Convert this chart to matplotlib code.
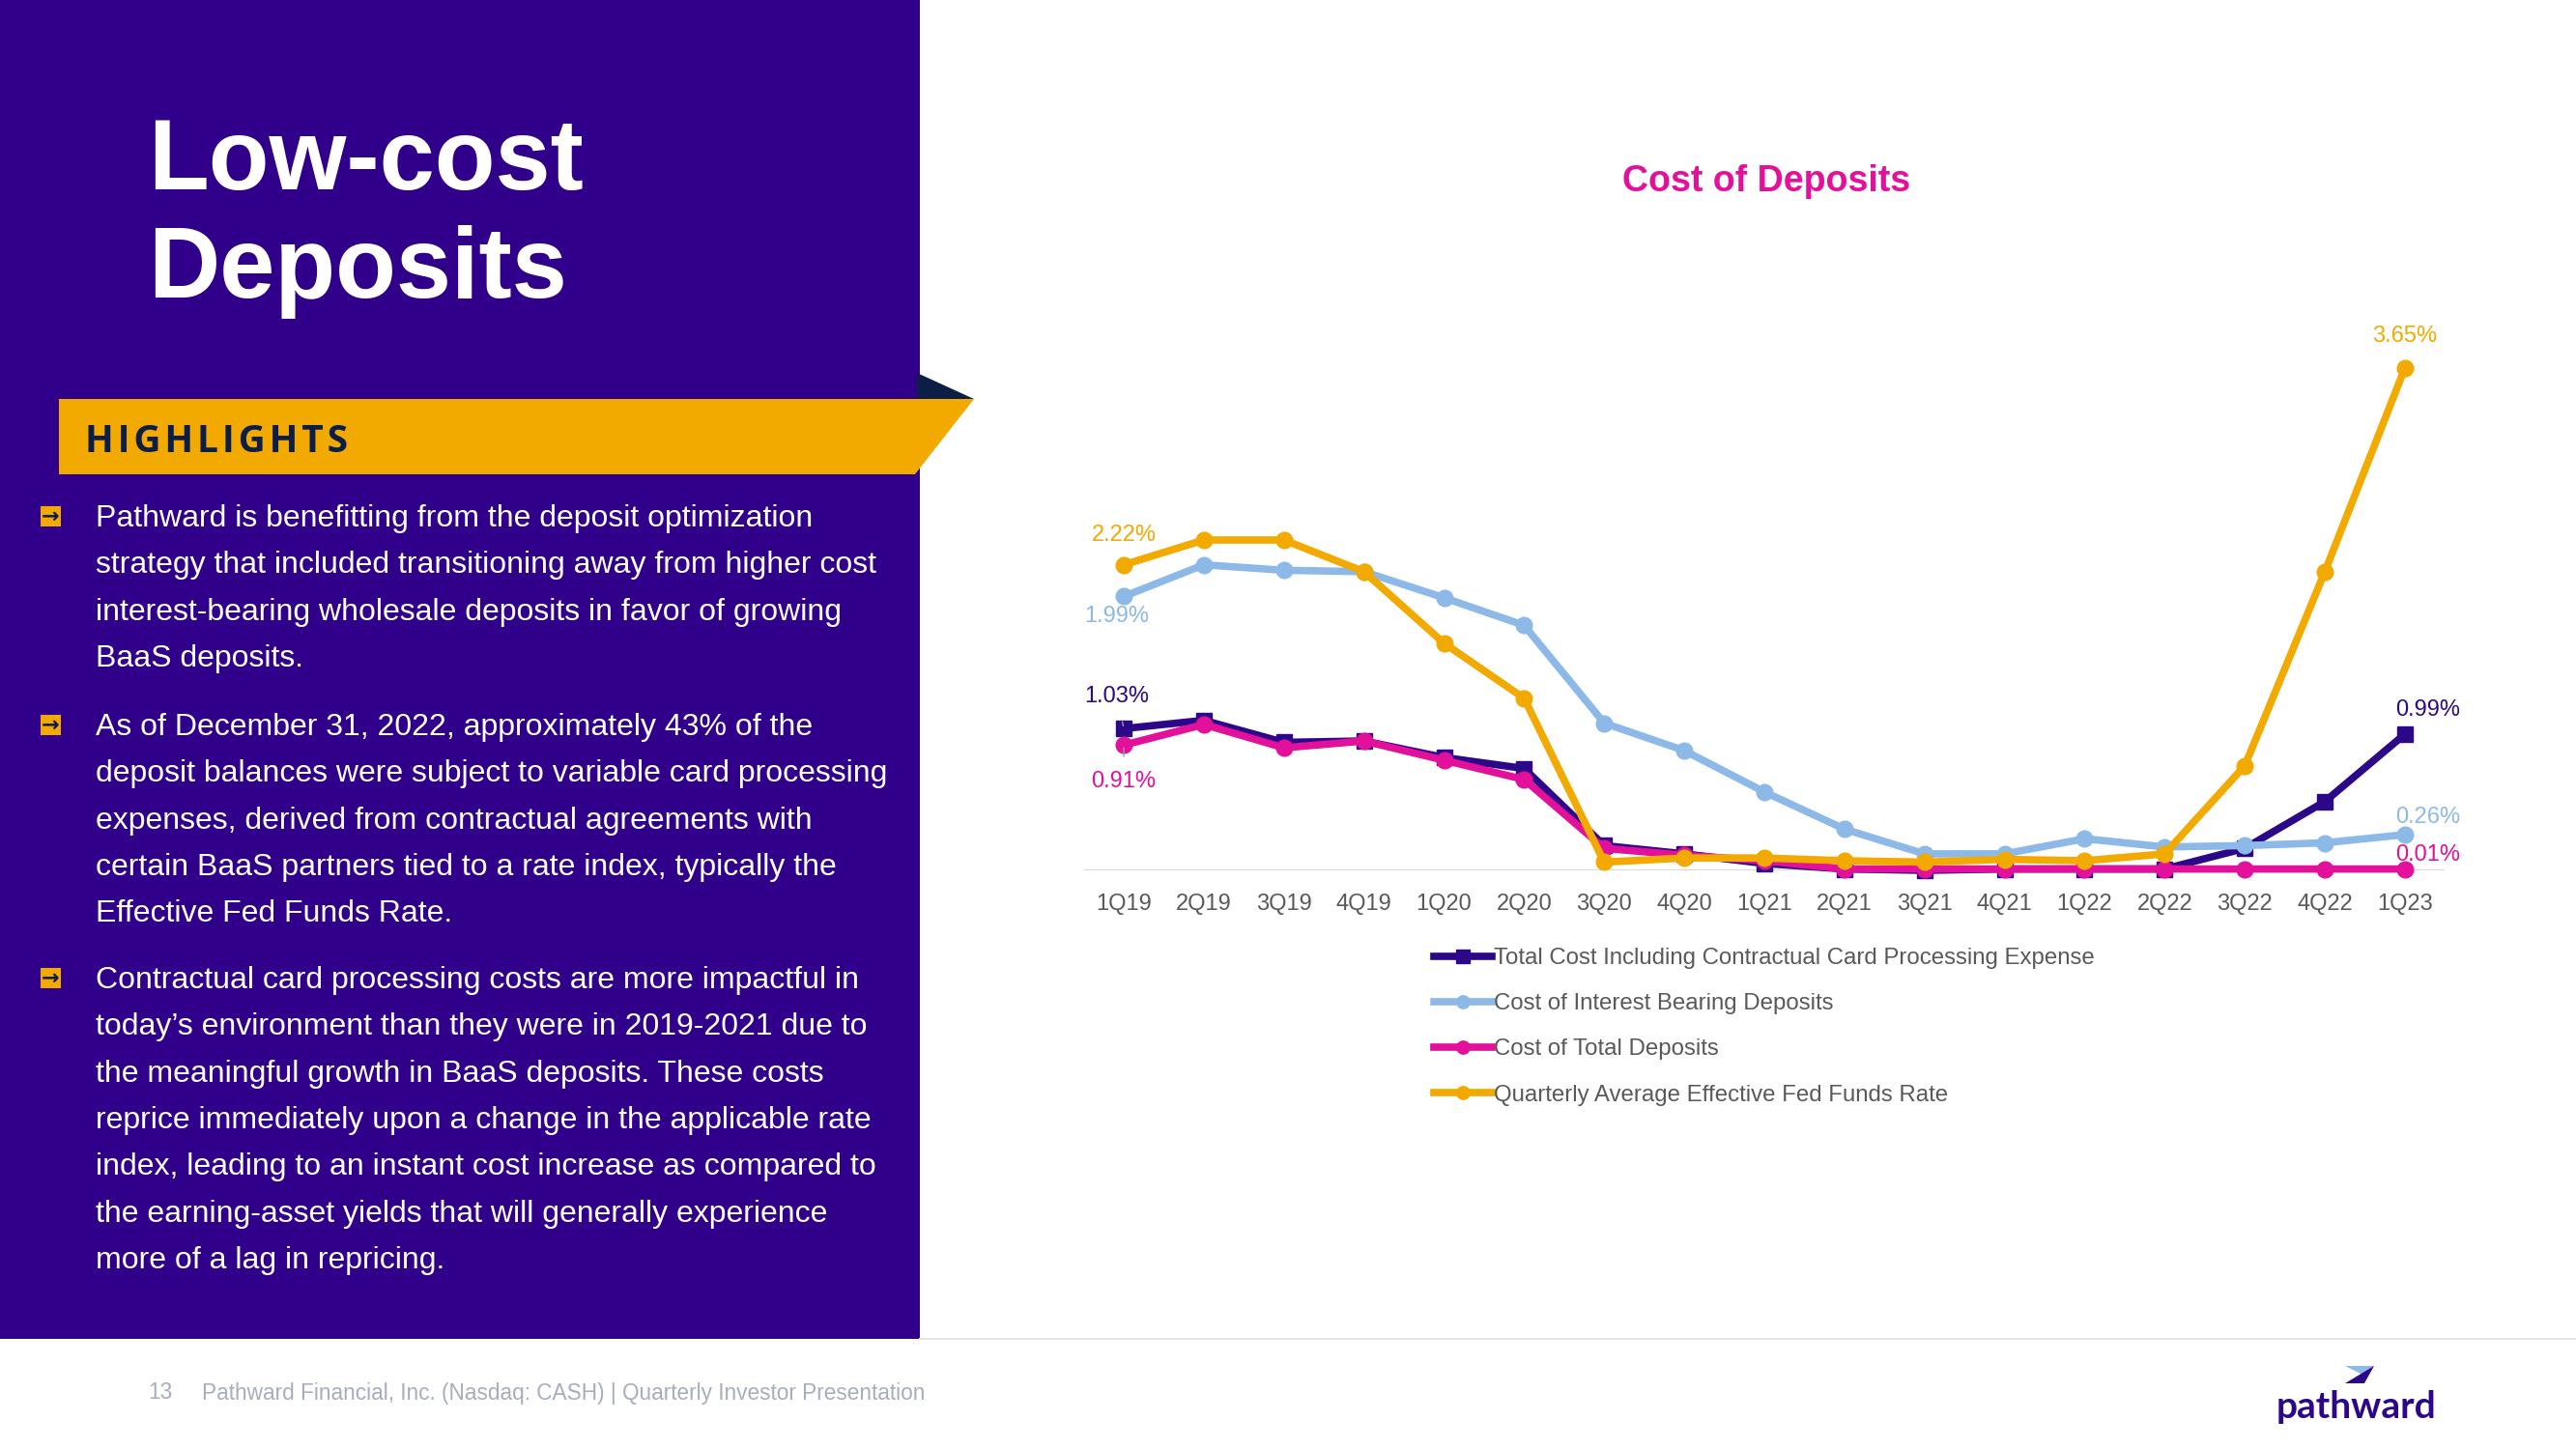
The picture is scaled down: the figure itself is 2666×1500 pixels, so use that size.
import matplotlib
matplotlib.use("Agg")
import matplotlib.pyplot as plt
from matplotlib.patches import Rectangle, Polygon

# Data
quarters = ["1Q19", "2Q19", "3Q19", "4Q19", "1Q20", "2Q20", "3Q20", "4Q20", "1Q21",
            "2Q21", "3Q21", "4Q21", "1Q22", "2Q22", "3Q22", "4Q22", "1Q23"]
total_cost = [1.03, 1.09, 0.93, 0.94, 0.82, 0.74, 0.18, 0.12, 0.05,
              0.01, 0.00, 0.01, 0.01, 0.01, 0.16, 0.50, 0.99]
interest_bearing = [1.99, 2.22, 2.18, 2.17, 1.98, 1.78, 1.07, 0.87, 0.57,
                    0.30, 0.12, 0.12, 0.23, 0.17, 0.18, 0.20, 0.26]
total_deposits = [0.91, 1.06, 0.89, 0.94, 0.80, 0.66, 0.16, 0.11, 0.07,
                  0.01, 0.01, 0.01, 0.01, 0.01, 0.01, 0.01, 0.01]
fed_funds = [2.22, 2.40, 2.40, 2.17, 1.65, 1.25, 0.06, 0.09, 0.09,
             0.07, 0.06, 0.08, 0.07, 0.12, 0.76, 2.17, 3.65]
series_names = ["Total Cost Including Contractual Card Processing Expense",
                "Cost of Interest Bearing Deposits",
                "Cost of Total Deposits",
                "Quarterly Average Effective Fed Funds Rate"]

bullets = [
    ["Pathward is benefitting from the deposit optimization",
     "strategy that included transitioning away from higher cost",
     "interest-bearing wholesale deposits in favor of growing",
     "BaaS deposits."],
    ["As of December 31, 2022, approximately 43% of the",
     "deposit balances were subject to variable card processing",
     "expenses, derived from contractual agreements with",
     "certain BaaS partners tied to a rate index, typically the",
     "Effective Fed Funds Rate."],
    ["Contractual card processing costs are more impactful in",
     "today\u2019s environment than they were in 2019-2021 due to",
     "the meaningful growth in BaaS deposits. These costs",
     "reprice immediately upon a change in the applicable rate",
     "index, leading to an instant cost increase as compared to",
     "the earning-asset yields that will generally experience",
     "more of a lag in repricing."],
]

# Colours
PURPLE = "#30008A"
DARK = "#2C0889"
LIGHT_BLUE = "#8DB9E8"
PINK = "#E2109A"
GOLD = "#F2A900"
NAVY = "#0D1E44"
GRAY = "#595959"

W, H = 2666, 1500
plt.rcParams["font.family"] = ["Liberation Sans", "DejaVu Sans"]
fig = plt.figure(figsize=(W / 100, H / 100), dpi=100)

# Background layer in pixel coordinates
bg = fig.add_axes([0, 0, 1, 1])
bg.set_xlim(0, W)
bg.set_ylim(H, 0)
bg.axis("off")

bg.add_patch(Rectangle((0, 0), 952, 1386, color=PURPLE, lw=0))
bg.plot([952, W], [1386, 1386], color="#E4E4E4", lw=1.5)
bg.add_patch(Polygon([(949, 386), (949, 413), (1008, 413)], color=NAVY, lw=0))
bg.add_patch(Polygon([(61, 413), (1008, 413), (947, 491), (61, 491)], color=GOLD, lw=0))

bg.text(153, 196, "Low-cost", color="white", fontsize=74, fontweight="bold", va="baseline")
bg.text(153, 308, "Deposits", color="white", fontsize=74, fontweight="bold", va="baseline")
bg.text(88, 457, "H I G H L I G H T S".replace(" ", "\u200a"), color=NAVY, fontsize=28,
        fontweight="bold", family=["Open Sans", "DejaVu Sans"], va="center")

starts = [537, 753, 1015]
step = 48.3
for start, lines in zip(starts, bullets):
    bg.add_patch(Rectangle((42, start - 13), 21, 21, color=GOLD, lw=0))
    bg.text(52.5, start - 2.5, "\u2192", color=NAVY, fontsize=16, fontweight="bold",
            ha="center", va="center", family="DejaVu Sans")
    for k, line in enumerate(lines):
        bg.text(99, start + k * step, line, color="white", fontsize=23, va="center")

bg.text(153, 1442, "13", color="#A6ADBD", fontsize=16.3, va="center")
bg.text(209, 1442, "Pathward Financial, Inc. (Nasdaq: CASH) | Quarterly Investor Presentation",
        color="#A6ADBD", fontsize=16.3, va="center")

# pathward logo
bg.text(2438, 1457, "pathward", color=DARK, fontsize=28, fontweight="bold",
        ha="center", va="center", family=["Lato", "DejaVu Sans"])
bg.add_patch(Polygon([(2427, 1414), (2457, 1414), (2445, 1423)], color=LIGHT_BLUE, lw=0))
bg.add_patch(Polygon([(2427, 1432), (2447, 1432), (2457, 1414)], color=DARK, lw=0))

bg.text(1828, 188, "Cost of Deposits", color=PINK, fontsize=27, fontweight="bold",
        ha="center", va="center")

# Chart
ax = fig.add_axes([1121.6 / W, (H - 901) / H, 1408.8 / W, 570 / H])
x = list(range(len(quarters)))
styles = [
    (total_cost, DARK, "s", 12),
    (interest_bearing, LIGHT_BLUE, "o", 12),
    (total_deposits, PINK, "o", 12),
    (fed_funds, GOLD, "o", 12),
]
for (vals, color, marker, ms), name in zip(styles, series_names):
    ax.plot(x, vals, color=color, lw=5.5, marker=marker, ms=ms, label=name,
            clip_on=False, solid_joinstyle="round")

ax.axhline(0, color="#D9D9D9", lw=1.5, zorder=0)
ax.set_xlim(-0.5, len(quarters) - 0.5)
ax.set_ylim(0, 4)
ax.set_xticks(x)
ax.set_xticklabels(quarters, fontsize=17, color=GRAY)
ax.set_yticks([])
ax.tick_params(axis="x", length=0, pad=17)
for s in ax.spines.values():
    s.set_visible(False)

lab = dict(fontsize=17, textcoords="offset pixels", ha="center", va="center",
           annotation_clip=False)
ax.annotate(f"{fed_funds[0]:.2f}%", (0, fed_funds[0]), (0, 31), color=GOLD, **lab)
ax.annotate(f"{interest_bearing[0]:.2f}%", (0, interest_bearing[0]), (-7, -21),
            color=LIGHT_BLUE, **lab)
ax.annotate(f"{total_cost[0]:.2f}%", (0, total_cost[0]), (-7, 33), color=DARK,
            arrowprops=dict(arrowstyle="-", color="#A0A0A0", lw=1, shrinkA=9, shrinkB=2), **lab)
ax.annotate(f"{total_deposits[0]:.2f}%", (0, total_deposits[0]), (0, -38), color=PINK,
            arrowprops=dict(arrowstyle="-", color="#A0A0A0", lw=1, shrinkA=9, shrinkB=2), **lab)
last = len(quarters) - 1
ax.annotate(f"{fed_funds[last]:.2f}%", (last, fed_funds[last]), (0, 33), color=GOLD, **lab)
ax.annotate(f"{total_cost[last]:.2f}%", (last, total_cost[last]), (24, 25), color=DARK, **lab)
ax.annotate(f"{interest_bearing[last]:.2f}%", (last, interest_bearing[last]), (24, 18),
            color=LIGHT_BLUE, **lab)
ax.annotate(f"{total_deposits[last]:.2f}%", (last, total_deposits[last]), (24, 15),
            color=PINK, **lab)

leg = ax.legend(loc="upper left", bbox_to_anchor=(1484 / W, 1 - 981 / H),
                bbox_transform=fig.transFigure, frameon=False, fontsize=17.3,
                handlelength=2.5, handletextpad=0.1, labelspacing=1.05,
                borderpad=0, borderaxespad=0, numpoints=1, markerscale=0.8)
for t in leg.get_texts():
    t.set_color(GRAY)

fig.savefig("out.png", dpi=100)
